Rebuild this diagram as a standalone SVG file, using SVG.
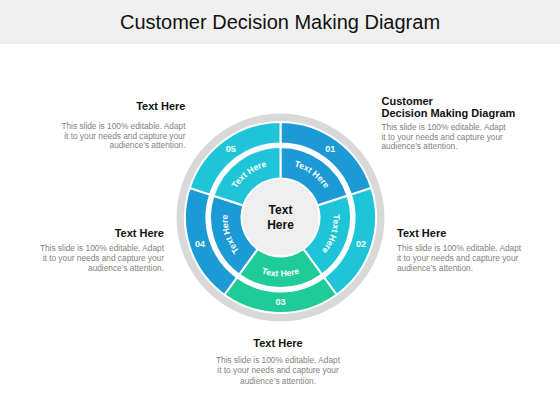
<svg xmlns="http://www.w3.org/2000/svg" xmlns:xlink="http://www.w3.org/1999/xlink" width="560" height="420" viewBox="0 0 560 420">
<style>
.title{font-family:"Liberation Sans",Arial,sans-serif;font-size:20px;fill:#111}
.hd{font-family:"Liberation Sans",Arial,sans-serif;font-size:11px;font-weight:bold;fill:#111}
.bd{font-family:"Liberation Sans",Arial,sans-serif;font-size:8.3px;fill:#7f7f7f}
.num{font-family:"Liberation Sans",Arial,sans-serif;font-size:9px;font-weight:bold;fill:#fff;text-anchor:middle}
.arc{font-family:"Liberation Sans",Arial,sans-serif;font-size:8.7px;font-weight:bold;fill:#fff}
.ctr{font-family:"Liberation Sans",Arial,sans-serif;font-size:12px;font-weight:bold;fill:#111;text-anchor:middle}
.seg{stroke:#fff;stroke-width:2;stroke-linejoin:round}
.blue{fill:#1b9ad6}
.cyan{fill:#1ec5d8}
.green{fill:#1fcb98}
</style>
<defs>
<path id="outer" d="M280.5 122 A95.5 95.5 0 0 1 371.33 187.99 L350.88 194.63 A74 74 0 0 0 280.5 143.5 Z"/>
<path id="inner" d="M280.5 147 A70.5 70.5 0 0 1 347.55 195.71 L317.59 205.45 A39 39 0 0 0 280.5 178.5 Z"/>
<path id="tpCW" d="M280.5 164.5 A53 53 0 0 1 330.91 201.12" fill="none"/>
<path id="tpBot" d="M245.82 265.23 A59 59 0 0 0 315.18 265.23" fill="none"/>
</defs>
<rect x="0" y="0" width="560" height="44" fill="#f0f0f0"/>
<text class="title" x="280" y="29" text-anchor="middle">Customer Decision Making Diagram</text>
<circle cx="280.5" cy="217.5" r="104" fill="#d9d9d9"/>
<circle cx="280.5" cy="217.5" r="95.5" fill="#fff"/>
<g id="seg01">
<use href="#outer" class="seg blue"/>
<use href="#inner" class="seg blue"/>
<text class="num" x="330.2" y="152.3">01</text>
<text class="arc"><textPath href="#tpCW" startOffset="50%" text-anchor="middle">Text Here</textPath></text>
</g>
<g id="seg02">
<use href="#outer" class="seg cyan" transform="rotate(72 280.5 217.5)"/>
<use href="#inner" class="seg cyan" transform="rotate(72 280.5 217.5)"/>
<text class="num" x="360.9" y="246.8">02</text>
<text class="arc" transform="rotate(72 280.5 217.5)"><textPath href="#tpCW" startOffset="50%" text-anchor="middle">Text Here</textPath></text>
</g>
<g id="seg03">
<use href="#outer" class="seg green" transform="rotate(144 280.5 217.5)"/>
<use href="#inner" class="seg green" transform="rotate(144 280.5 217.5)"/>
<text class="num" x="280.5" y="305.2">03</text>
<text class="arc"><textPath href="#tpBot" startOffset="50%" text-anchor="middle">Text Here</textPath></text>
</g>
<g id="seg04">
<use href="#outer" class="seg blue" transform="rotate(216 280.5 217.5)"/>
<use href="#inner" class="seg blue" transform="rotate(216 280.5 217.5)"/>
<text class="num" x="200.1" y="246.8">04</text>
<text class="arc" transform="rotate(216 280.5 217.5)"><textPath href="#tpCW" startOffset="50%" text-anchor="middle">Text Here</textPath></text>
</g>
<g id="seg05">
<use href="#outer" class="seg cyan" transform="rotate(288 280.5 217.5)"/>
<use href="#inner" class="seg cyan" transform="rotate(288 280.5 217.5)"/>
<text class="num" x="230.8" y="152.3">05</text>
<text class="arc" transform="rotate(288 280.5 217.5)"><textPath href="#tpCW" startOffset="50%" text-anchor="middle">Text Here</textPath></text>
</g>
<g id="center">
<circle cx="280.5" cy="217.5" r="38" fill="#efefef"/>
<text class="ctr" x="280.5" y="214">Text</text>
<text class="ctr" x="280.5" y="228.5">Here</text>
</g>
<g id="note-top-left" text-anchor="end">
<text class="hd" x="185.5" y="110">Text Here</text>
<text class="bd" x="185.5" y="129">This slide is 100% editable.  Adapt</text>
<text class="bd" x="185.5" y="138.5">it to your needs and capture your</text>
<text class="bd" x="185.5" y="148">audience’s attention.</text>
</g>
<g id="note-top-right">
<text class="hd" x="381.5" y="104.5">Customer</text>
<text class="hd" x="381.5" y="117">Decision Making Diagram</text>
<text class="bd" x="381.5" y="130">This slide is 100% editable.  Adapt</text>
<text class="bd" x="381.5" y="139.5">it to your needs and capture your</text>
<text class="bd" x="381.5" y="149">audience’s attention.</text>
</g>
<g id="note-left" text-anchor="end">
<text class="hd" x="164" y="237">Text Here</text>
<text class="bd" x="164" y="251">This slide is 100% editable.  Adapt</text>
<text class="bd" x="164" y="261">it to your needs and capture your</text>
<text class="bd" x="164" y="271">audience’s attention.</text>
</g>
<g id="note-right">
<text class="hd" x="397" y="237">Text Here</text>
<text class="bd" x="397" y="251">This slide is 100% editable.  Adapt</text>
<text class="bd" x="397" y="261">it to your needs and capture your</text>
<text class="bd" x="397" y="271">audience’s attention.</text>
</g>
<g id="note-bottom" text-anchor="middle">
<text class="hd" x="278" y="346.5">Text Here</text>
<text class="bd" x="278" y="362.5">This slide is 100% editable.  Adapt</text>
<text class="bd" x="278" y="373">it to your needs and capture your</text>
<text class="bd" x="278" y="383.5">audience’s attention.</text>
</g>
</svg>
